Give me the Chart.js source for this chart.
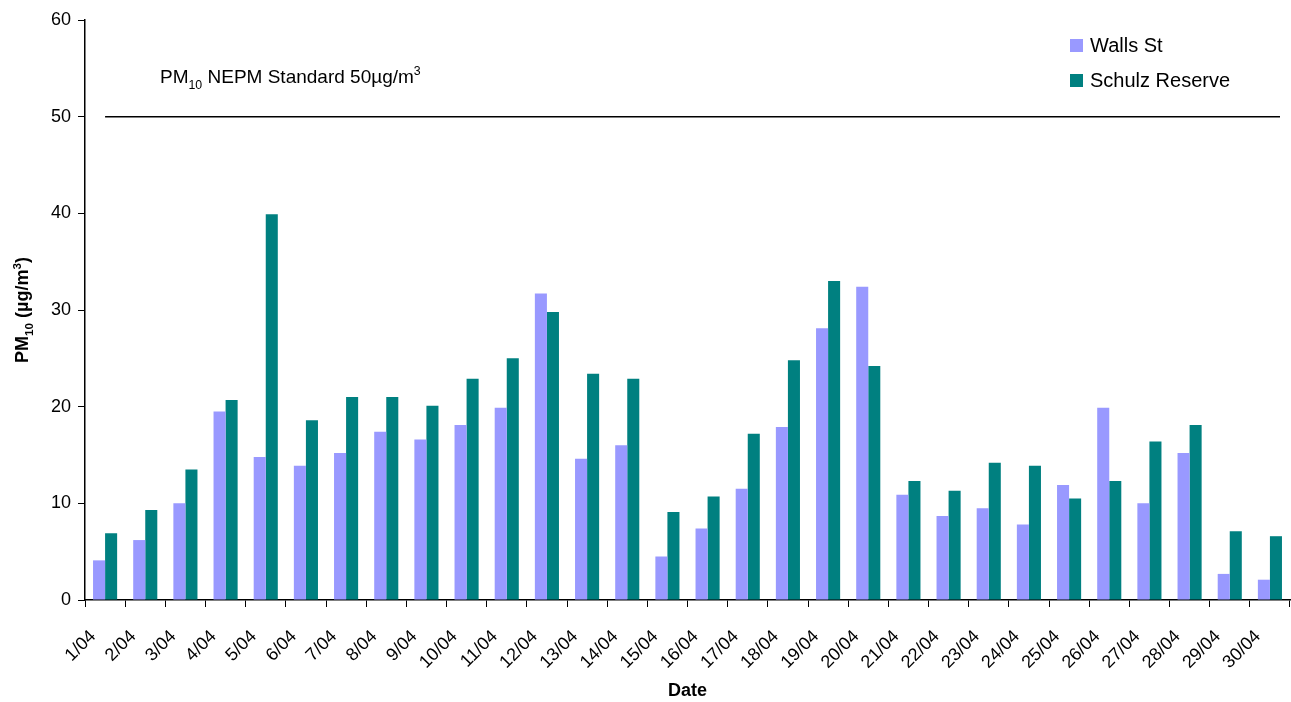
<html><head>
<script src="https://cdn.jsdelivr.net/npm/chart.js"></script>
<title>PM10 April</title>
<style>
body { margin: 0; background: #fff; }
#chart { display: block; }
</style>
</head>
<body>
<canvas id="chart" width="1291" height="702"></canvas>
<script>
const dates = ['1/04','2/04','3/04','4/04','5/04','6/04','7/04','8/04','9/04','10/04',
  '11/04','12/04','13/04','14/04','15/04','16/04','17/04','18/04','19/04','20/04',
  '21/04','22/04','23/04','24/04','25/04','26/04','27/04','28/04','29/04','30/04'];
const wallsSt = [4.1, 6.2, 10.0, 19.5, 14.8, 13.9, 15.2, 17.4, 16.6, 18.1,
  19.9, 31.7, 14.6, 16.0, 4.5, 7.4, 11.5, 17.9, 28.1, 32.4,
  10.9, 8.7, 9.5, 7.8, 11.9, 19.9, 10.0, 15.2, 2.7, 2.1];
const schulzReserve = [6.9, 9.3, 13.5, 20.7, 39.9, 18.6, 21.0, 21.0, 20.1, 22.9,
  25.0, 29.8, 23.4, 22.9, 9.1, 10.7, 17.2, 24.8, 33.0, 24.2,
  12.3, 11.3, 14.2, 13.9, 10.5, 12.3, 16.4, 18.1, 7.1, 6.6];
const standard = 50;

const FONT = 'Arial, "Liberation Sans", sans-serif';

// draws a run of text pieces; each piece can be normal, sub or sup
function drawRich(ctx, x, y, parts, size, bold) {
  let cx = x;
  parts.forEach(p => {
    let s = size, dy = 0;
    if (p.sub) { s = size * 0.65; dy = size * 0.3; }
    if (p.sup) { s = size * 0.65; dy = -size * 0.4; }
    ctx.font = (bold ? 'bold ' : '') + s + 'px ' + FONT;
    ctx.fillText(p.t, cx, y + dy);
    cx += ctx.measureText(p.t).width;
  });
  return cx - x;
}
function richWidth(ctx, parts, size, bold) {
  let w = 0;
  parts.forEach(p => {
    const s = (p.sub || p.sup) ? size * 0.65 : size;
    ctx.font = (bold ? 'bold ' : '') + s + 'px ' + FONT;
    w += ctx.measureText(p.t).width;
  });
  return w;
}

const extras = {
  id: 'extras',
  afterDraw(chart) {
    const ctx = chart.ctx;
    const x = chart.scales.x, y = chart.scales.y;
    ctx.save();
    ctx.fillStyle = '#000';
    ctx.textBaseline = 'alphabetic';
    ctx.textAlign = 'left';

    // standard line
    const ys = y.getPixelForValue(standard);
    ctx.strokeStyle = '#000';
    ctx.lineWidth = 1.5;
    ctx.beginPath();
    ctx.moveTo(x.getPixelForValue(0), ys);
    ctx.lineTo(chart.chartArea.right - 10, ys);
    ctx.stroke();

    drawRich(ctx, 160, 83, [
      {t: 'PM'}, {t: '10', sub: true}, {t: ' NEPM Standard 50µg/m'}, {t: '3', sup: true}
    ], 19, false);

    // y title
    const yt = [{t: 'PM'}, {t: '10', sub: true}, {t: ' (µg/m'}, {t: '3', sup: true}, {t: ')'}];
    const w = richWidth(ctx, yt, 18, true);
    ctx.save();
    ctx.translate(28, (chart.chartArea.top + chart.chartArea.bottom) / 2);
    ctx.rotate(-Math.PI / 2);
    drawRich(ctx, -w / 2, 0, yt, 18, true);
    ctx.restore();

    // legend
    const items = [['Walls St', '#9999FF'], ['Schulz Reserve', '#008080']];
    items.forEach((it, i) => {
      const ly = 45 + i * 35;
      ctx.fillStyle = it[1];
      ctx.fillRect(1070, ly - 6, 13, 13);
      ctx.fillStyle = '#000';
      ctx.font = '20px ' + FONT;
      ctx.textBaseline = 'middle';
      ctx.fillText(it[0], 1090, ly + 1);
    });
    ctx.restore();
  }
};

new Chart(document.getElementById('chart'), {
  type: 'bar',
  data: {
    labels: dates,
    datasets: [{
      label: 'Walls St',
      data: wallsSt,
      backgroundColor: '#9999FF',
      categoryPercentage: 0.6,
      barPercentage: 1.0
    }, {
      label: 'Schulz Reserve',
      data: schulzReserve,
      backgroundColor: '#008080',
      categoryPercentage: 0.6,
      barPercentage: 1.0
    }]
  },
  options: {
    responsive: false,
    animation: false,
    layout: { padding: { top: 20, right: 1, left: 0, bottom: 0 } },
    plugins: {
      legend: { display: false },
      tooltip: { enabled: false }
    },
    scales: {
      x: {
        grid: { display: true, drawOnChartArea: false, offset: true, tickLength: 7, color: '#000' },
        border: { color: '#000', width: 1.5 },
        ticks: {
          color: '#000', font: { family: FONT, size: 18 },
          maxRotation: 45, minRotation: 45, autoSkip: false,
          labelOffset: -12, padding: 19
        },
        title: { display: true, text: 'Date', color: '#000', font: { family: FONT, size: 18, weight: 'bold' }, padding: { top: 0, bottom: 0 } },
        afterFit: s => { s.height = 102; s.paddingLeft = 0; s.paddingRight = 0; }
      },
      y: {
        min: 0, max: 60,
        grid: { display: true, drawOnChartArea: false, tickLength: 7, color: '#000' },
        border: { color: '#000', width: 1.5 },
        ticks: { stepSize: 10, color: '#000', font: { family: FONT, size: 18 }, padding: 7 },
        afterFit: s => { s.width = 85; }
      }
    }
  },
  plugins: [extras]
});
</script>
</body></html>
